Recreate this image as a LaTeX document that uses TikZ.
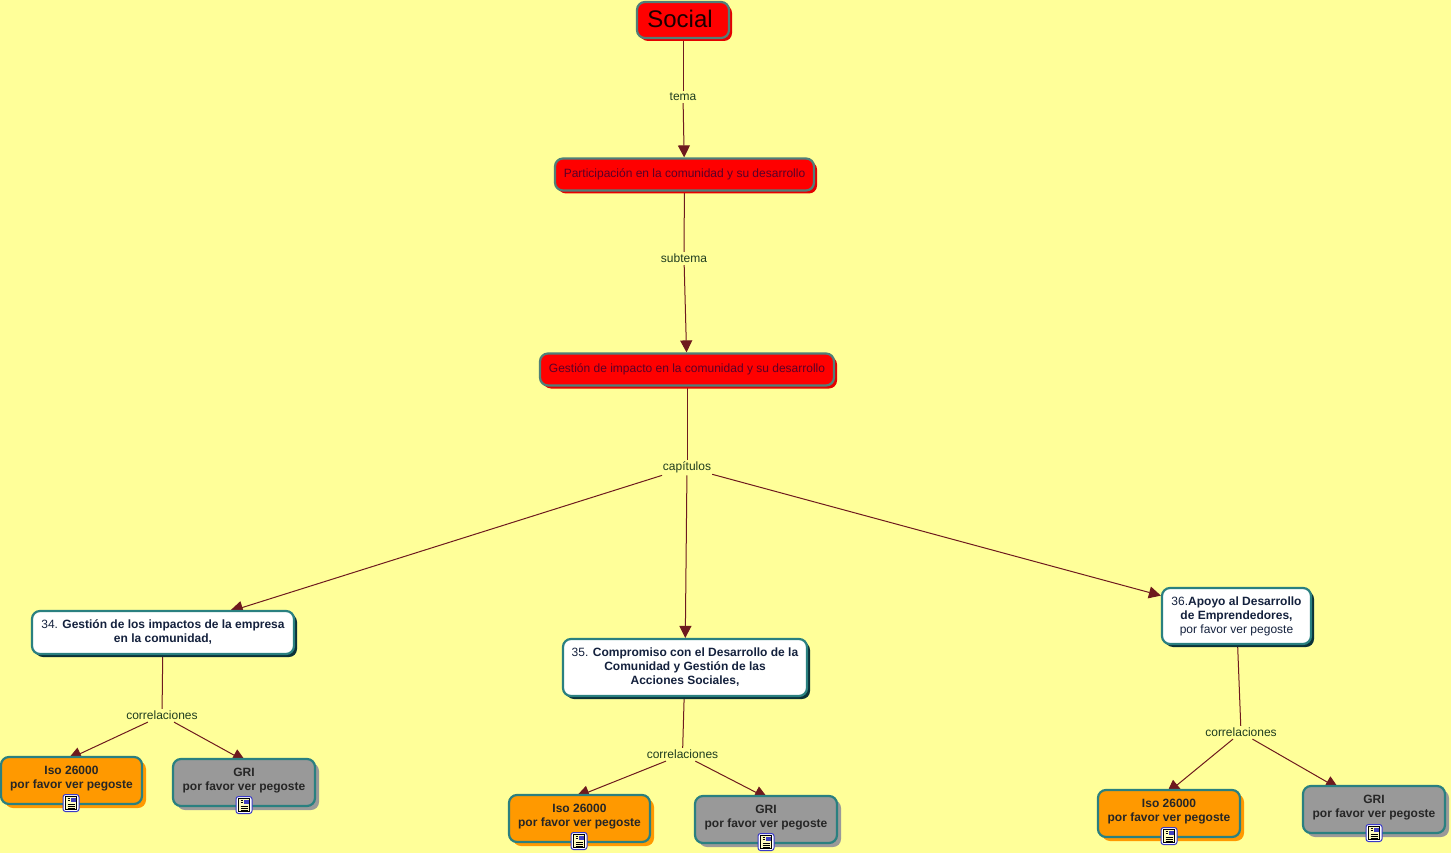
\documentclass[tikz,border=0pt]{standalone}
\usepackage{fontspec}
\setmainfont{Liberation Sans}
\usetikzlibrary{arrows.meta,shadows}
\pgfdeclarelayer{background}
\pgfsetlayers{background,main}
\definecolor{bgy}{HTML}{FFFF99}
\definecolor{edge}{HTML}{6E1A1E}
\definecolor{tealb}{HTML}{2A8080}
\definecolor{redb}{HTML}{4F7F78}
\definecolor{lab}{HTML}{1F3D1F}
\definecolor{navy}{HTML}{14213D}
\definecolor{rtext}{HTML}{5A0028}
\definecolor{orangef}{HTML}{FF9900}
\definecolor{grayf}{HTML}{999999}
\definecolor{darkshadow}{HTML}{0B3238}
\newcommand{\up}[2][1.5pt]{\raisebox{#1}[\height][\depth]{\begin{tabular}{@{}c@{}}#2\end{tabular}}}
\tikzset{
  x=1pt,y=-1pt,
  base/.style={rounded corners=8pt,line width=2.2pt,inner sep=0pt,align=center,font=\fontsize{12}{14}\selectfont},
  redbox/.style={base,draw=redb,fill=red,text=rtext,drop shadow={shadow xshift=3pt,shadow yshift=-3pt,fill=red!90!black,opacity=1}},
  whitebox/.style={base,draw=tealb,fill=white,text=navy,drop shadow={shadow xshift=3pt,shadow yshift=-3pt,fill=darkshadow,opacity=1}},
  orangebox/.style={base,draw=tealb,fill=orangef,text=black!85,drop shadow={shadow xshift=4pt,shadow yshift=-4pt,fill=orangef,opacity=1}},
  graybox/.style={base,draw=tealb,fill=grayf,text=black!85,drop shadow={shadow xshift=4pt,shadow yshift=-4pt,fill=grayf,opacity=1}},
  linklabel/.style={text=lab,inner xsep=1pt,inner ysep=2pt,font=\fontsize{12}{14}\selectfont},
  link/.style={draw=edge,line width=1pt},
  arrowlink/.style={link,-{Triangle[length=12pt,width=12pt]}},
  hiddentip/.style={link,-{Triangle[length=14pt,width=13pt]},shorten >=-6pt},
  docicon/.pic={
    \draw[rounded corners=2.5pt,fill=white,draw=blue!55!gray,line width=1pt] (-8,-8.5) rectangle (8,8.5);
    \fill[yellow!25] (-5.5,-6.5) rectangle (5.5,6.5);
    \draw[black,line width=0.8pt] (-5.5,-6.5) rectangle (5.5,6.5);
    \fill[blue!50!gray] (0,-5.5) rectangle (4.5,-1);
    \draw[black,line width=0.8pt] (-3.5,1) -- (3.5,1) (-3.5,3) -- (3.5,3) (-3.5,5) -- (3.5,5) (-3.5,-4.5) -- (-1,-4.5) (-3.5,-2.5) -- (-1,-2.5);
  }
}
\begin{document}
\begin{tikzpicture}
\begin{pgfonlayer}{background}
\fill[bgy] (0,0) rectangle (1451,853);
\end{pgfonlayer}
\useasboundingbox (0,0) rectangle (1451,853);

\node[redbox,minimum width=92pt,minimum height=36pt,text=black!90!red,font=\fontsize{24}{28}\selectfont] (social) at (683,20) {\raisebox{1pt}[\height][\depth]{Social}\hspace{6pt}};
\node[redbox,minimum width=259pt,minimum height=32pt] (part) at (684.5,174.5) {Participación en la comunidad y su desarrollo};
\node[redbox,minimum width=294pt,minimum height=32pt] (gest) at (687,369.5) {Gestión de impacto en la comunidad y su desarrollo};

\node[whitebox,minimum width=262pt,minimum height=43pt] (c34) at (163,632.5) {34. \textbf{Gestión de los impactos de la empresa}\\\textbf{en la comunidad,}};
\node[whitebox,minimum width=244pt,minimum height=57pt] (c35) at (685,667.5) {35. \textbf{Compromiso con el Desarrollo de la}\\\textbf{Comunidad y Gestión de las}\\\textbf{Acciones Sociales,}};
\node[whitebox,minimum width=149pt,minimum height=56pt] (c36) at (1236.5,616) {36.\textbf{Apoyo al Desarrollo}\\\textbf{de Emprendedores,}\\por favor ver pegoste};

\node[orangebox,minimum width=141pt,minimum height=47pt] (iso1) at (71.5,780.5) {\up{\textbf{Iso 26000}\\\textbf{por favor ver pegoste}}};
\node[graybox,minimum width=142pt,minimum height=47pt] (gri1) at (244,782.5) {\up{\textbf{GRI}\\\textbf{por favor ver pegoste}}};
\node[orangebox,minimum width=141pt,minimum height=47pt] (iso2) at (579.5,818.5) {\up{\textbf{Iso 26000}\\\textbf{por favor ver pegoste}}};
\node[graybox,minimum width=142pt,minimum height=47pt] (gri2) at (766,819.5) {\up{\textbf{GRI}\\\textbf{por favor ver pegoste}}};
\node[orangebox,minimum width=142pt,minimum height=47pt] (iso3) at (1169,813.5) {\up{\textbf{Iso 26000}\\\textbf{por favor ver pegoste}}};
\node[graybox,minimum width=142pt,minimum height=47pt] (gri3) at (1374,809.5) {\up{\textbf{GRI}\\\textbf{por favor ver pegoste}}};

\node[linklabel] (tema) at (683,97) {tema};
\node[linklabel] (subtema) at (684,258.5) {subtema};
\node[linklabel] (cap) at (687,467.5) {capítulos};
\node[linklabel] (cor1) at (162,715.5) {correlaciones};
\node[linklabel] (cor2) at (682.5,754.5) {correlaciones};
\node[linklabel] (cor3) at (1241,732.5) {correlaciones};
\coordinate (gri3t) at (1334,786);
\coordinate (gri1t) at (241,759);
\coordinate (gri2t) at (763,796);
\coordinate (iso1t) at (73,757);
\coordinate (iso2t) at (581,795);
\coordinate (iso3t) at (1171,790);

\pic at (71,803) {docicon};
\pic at (244,805) {docicon};
\pic at (579,841) {docicon};
\pic at (766,842) {docicon};
\pic at (1169,836) {docicon};
\pic at (1374,833) {docicon};

\begin{pgfonlayer}{background}
\draw[link] (social) -- (tema);
\draw[arrowlink] (tema) -- (part);
\draw[link] (part) -- (subtema);
\draw[arrowlink] (subtema) -- (gest);
\draw[link] (gest) -- (cap);
\draw[hiddentip] (cap) -- (c34);
\draw[arrowlink] (cap) -- (c35);
\draw[arrowlink] (cap) -- (c36);
\draw[link] (c34) -- (cor1);
\draw[link] (c35) -- (cor2);
\draw[link] (c36) -- (cor3);
\draw[hiddentip] (cor1) -- (iso1t);
\draw[hiddentip] (cor1) -- (gri1t);
\draw[hiddentip] (cor2) -- (iso2t);
\draw[hiddentip] (cor2) -- (gri2t);
\draw[hiddentip] (cor3) -- (iso3t);
\draw[hiddentip] (cor3) -- (gri3t);
\end{pgfonlayer}
\end{tikzpicture}
\end{document}
